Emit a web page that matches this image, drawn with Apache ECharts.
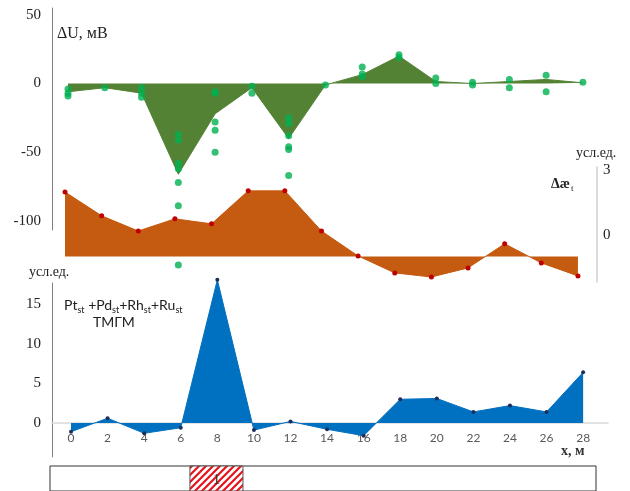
<!DOCTYPE html>
<html><head><meta charset="utf-8">
<script src="https://cdn.jsdelivr.net/npm/echarts@6/dist/echarts.min.js"></script>
<style>html,body{margin:0;padding:0;background:#fff}#c{width:630px;height:491px}</style>
</head><body><div id="c"></div>
<script>
// ---- data ----
const xPositions = [0,2,4,6,8,10,12,14,16,18,20,22,24,26,28];
const duArea = [-6,-3,-7,-66,-22,-3,-40,-1,6.5,20,1.5,0,1.5,3,0.5];
const duDots = [
  [-4,-7,-9],[-3],[-3,-7,-10],[-37,-41,-58,-62,-72,-89,-132],[-6,-7,-28,-34,-50],
  [-2,-7],[-25,-29,-38,-46,-48,-67],[-1],[12,7,5],[21,19],[4,0],[1,-1],[3,-3],[6,-6],[1]
];
const aeValues = [1.98,0.88,0.18,0.74,0.51,2.03,2.03,0.18,-0.97,-1.75,-1.94,-1.52,-0.41,-1.29,-1.89];
const aeBase = -1;
const pgmValues = [-1.1,0.6,-1.3,-0.6,18.1,-0.9,0.2,-0.8,-1.6,3.0,3.1,1.4,2.2,1.4,6.4];
const duTicks = [-100,-50,0,50];
const aeTicks = [0,3];
const pgmYTicks = [0,5,10,15];
const xTicks = [0,2,4,6,8,10,12,14,16,18,20,22,24,26,28];
const zoneStart = 6.5, zoneEnd = 9.4, zoneLabel = '1';

const duPairs = xPositions.map((x,i)=>[x,duArea[i]]);
const dotPairs = [];
xPositions.forEach((x,i)=>duDots[i].forEach(v=>dotPairs.push([x,v])));
const aePairs = xPositions.map((x,i)=>[x,aeValues[i]]);
const pgmPairs = xPositions.map((x,i)=>[x,pgmValues[i]]);

// hatch pattern
const pc = document.createElement('canvas');
pc.width = 7; pc.height = 7;
const pctx = pc.getContext('2d');
pctx.fillStyle = '#fff'; pctx.fillRect(0,0,7,7);
pctx.strokeStyle = '#e8141c'; pctx.lineWidth = 2.2;
pctx.beginPath();
pctx.moveTo(-1,8); pctx.lineTo(8,-1);
pctx.moveTo(-4.5,4.5); pctx.lineTo(4.5,-4.5);
pctx.moveTo(2.5,11.5); pctx.lineTo(11.5,2.5);
pctx.stroke();

const serif = 'Liberation Serif';
const chart = echarts.init(document.getElementById('c'), null, {renderer:'canvas'});
chart.setOption({
  animation:false,
  grid:[
    {left:52, top:8, width:548, height:222},
    {left:52, top:167, width:545, height:115},
    {left:52, top:283, width:556, height:174},
    {left:50, top:466, width:546, height:40, show:true, borderColor:'#333', borderWidth:1},
    {left:52, top:283, width:556, height:140}
  ],
  xAxis:[
    {gridIndex:0, type:'value', min:-0.87, max:28.93, show:false},
    {gridIndex:1, type:'value', min:-0.71, max:29.04, show:false},
    {gridIndex:2, type:'value', min:-1.04, max:29.36, show:false},
    {gridIndex:3, type:'value', min:-1.15, max:28.7, show:false},
    {gridIndex:4, type:'value', min:-1.04, max:29.36, position:'bottom',
      splitLine:{show:false}, axisTick:{show:false},
      axisLine:{show:true, onZero:false, lineStyle:{color:'#d9d9d9', width:1.5}},
      axisLabel:{customValues:xTicks, color:'#595959', fontFamily:'Lato', fontSize:12, margin:9}}
  ],
  yAxis:[
    {gridIndex:0, type:'value', min:-106.6, max:55, splitLine:{show:false}, axisTick:{show:false},
      axisLine:{show:true, onZero:false, lineStyle:{color:'#808080'}},
      axisLabel:{customValues:duTicks, color:'#222', fontFamily:serif, fontSize:15, margin:11}},
    {gridIndex:1, type:'value', position:'right', min:-2.17, max:3.13, splitLine:{show:false}, axisTick:{show:false},
      axisLine:{show:true, onZero:false, lineStyle:{color:'#d0d0d0', width:1.5}},
      axisLabel:{customValues:aeTicks, color:'#222', fontFamily:serif, fontSize:15, margin:6}},
    {gridIndex:2, type:'value', min:-4.3, max:17.7, splitLine:{show:false}, axisTick:{show:false},
      axisLine:{show:true, onZero:false, lineStyle:{color:'#808080'}},
      axisLabel:{customValues:pgmYTicks, color:'#222', fontFamily:serif, fontSize:15, margin:11}},
    {gridIndex:3, type:'value', min:0, max:1, show:false},
    {gridIndex:4, type:'value', min:0, max:1, show:false}
  ],
  series:[
    {type:'line', xAxisIndex:1, yAxisIndex:1, data:aePairs, symbol:'circle', symbolSize:5,
      itemStyle:{color:'#c00000'}, lineStyle:{color:'#c55a11', width:1},
      areaStyle:{color:'#c55a11', opacity:1, origin:aeBase}, clip:false, z:2},
    {type:'line', xAxisIndex:0, yAxisIndex:0, data:duPairs, showSymbol:false, symbol:'none',
      lineStyle:{color:'#548235', width:1}, areaStyle:{color:'#548235', opacity:1, origin:0}, z:3},
    {type:'scatter', xAxisIndex:0, yAxisIndex:0, data:dotPairs, symbolSize:7,
      itemStyle:{color:'#00b050'}, clip:false, z:4},
    {type:'line', xAxisIndex:2, yAxisIndex:2, data:pgmPairs, symbol:'circle', symbolSize:4,
      itemStyle:{color:'#1f2d5a'}, lineStyle:{color:'#0070c0', width:1},
      areaStyle:{color:'#0070c0', opacity:1, origin:0}, clip:false, z:3},
    {type:'custom', xAxisIndex:3, yAxisIndex:3, data:[[zoneStart, zoneEnd]], clip:false,
      renderItem:function(params, api){
        const p1 = api.coord([api.value(0), 1]);
        const p2 = api.coord([api.value(1), 0]);
        return {type:'group', children:[
          {type:'rect', shape:{x:p1[0], y:p1[1], width:p2[0]-p1[0], height:p2[1]-p1[1]},
            style:{fill:{image:pc, repeat:'repeat'}, stroke:'#555', lineWidth:1}},
          {type:'text', style:{text:zoneLabel, x:(p1[0]+p2[0])/2, y:p1[1]+14, align:'center',
            verticalAlign:'middle', font:'15px "Liberation Serif"', fill:'#333'}}
        ]};
      }}
  ],
  graphic:[
    {type:'text', left:57, top:26, style:{text:'ΔU, мВ', font:'16px "Liberation Serif"', fill:'#222'}},
    {type:'text', left:576, top:146, style:{text:'усл.ед.', font:'14px "Liberation Serif"', fill:'#222'}},
    {type:'text', left:551, top:174, style:{text:'{a|Δæ}{s|t}',
      rich:{a:{font:'bold 14px "Liberation Serif"', fill:'#222', lineHeight:16, verticalAlign:'top'},
            s:{font:'9px "Liberation Serif"', fill:'#222', lineHeight:10, padding:[10,0,0,1], verticalAlign:'bottom'}}}},
    {type:'text', left:29, top:265, style:{text:'усл.ед.', font:'14px "Liberation Serif"', fill:'#222'}},
    {type:'text', left:64, top:295, style:{
      text:'{a|Pt}{s|st}{a| +Pd}{s|st}{a|+Rh}{s|st}{a|+Ru}{s|st}',
      rich:{a:{fontFamily:'Lato', fontSize:14, fill:'#222', lineHeight:17, verticalAlign:'top'},
            s:{fontFamily:'Lato', fontSize:9, fill:'#222', lineHeight:10, padding:[11,0,0,0], verticalAlign:'bottom'}}}},
    {type:'text', left:93, top:315, style:{text:'ТМГМ', font:'14px Lato', fill:'#222'}},
    {type:'text', left:561, top:444, style:{text:'x, м', font:'bold 14px "Liberation Serif"', fill:'#333'}}
  ]
});
</script></body></html>
